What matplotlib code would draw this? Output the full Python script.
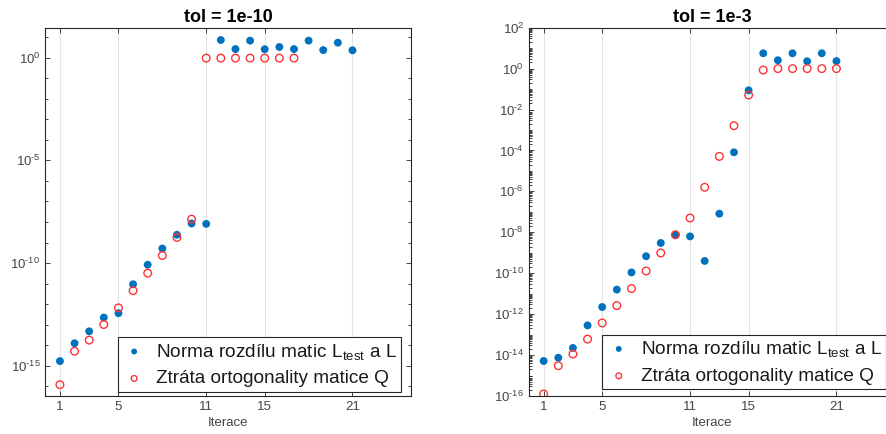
import numpy as np
import matplotlib
matplotlib.use("Agg")
import matplotlib.pyplot as plt
from matplotlib.ticker import LogLocator, FixedLocator, FuncFormatter, NullFormatter

plt.rcParams['font.family'] = ['Liberation Sans', 'DejaVu Sans']
plt.rcParams['mathtext.fontset'] = 'custom'
plt.rcParams['mathtext.rm'] = 'Liberation Sans'
plt.rcParams['mathtext.it'] = 'Liberation Sans:italic'
plt.rcParams['mathtext.bf'] = 'Liberation Sans:bold'
plt.rcParams['mathtext.default'] = 'regular'

# ---- data (log10 values) ----
iters_L_a = list(range(1, 22))
logL_a = [-14.77, -13.90, -13.32, -12.65, -12.44, -11.03, -10.08, -9.29, -8.62, -8.07,
          -8.09, 0.86, 0.42, 0.83, 0.41, 0.52, 0.42, 0.83, 0.37, 0.73, 0.36]
iters_Q_a = list(range(1, 18))
logQ_a = [-15.92, -14.29, -13.75, -12.99, -12.18, -11.34, -10.49, -9.63, -8.75, -7.86,
          -0.02, -0.02, -0.02, -0.02, -0.02, -0.02, -0.02]

iters_L_b = list(range(1, 22))
logL_b = [-14.29, -14.13, -13.65, -12.55, -11.65, -10.80, -9.96, -9.17, -8.52, -8.12,
          -8.20, -9.40, -7.09, -4.09, -1.06, 0.75, 0.41, 0.75, 0.36, 0.75, 0.37]
iters_Q_b = list(range(1, 22))
logQ_b = [-15.90, -14.52, -13.95, -13.22, -12.43, -11.58, -10.75, -9.89, -9.01, -8.12,
          -7.30, -5.80, -4.29, -2.79, -1.29, -0.07, 0.0, 0.0, 0.0, 0.0, 0.0]

titles = ['tol = 1e-10', 'tol = 1e-3']
xticks = [1, 5, 11, 15, 21]
xlabel = 'Iterace'
label_L = r'Norma rozdílu matic L$_{\mathrm{test}}$ a L'
label_Q = 'Ztráta ortogonality matice Q'

blue = '#0072BD'
red = '#FF3333'
txtc = '#454545'

W, H = 886, 434
fig = plt.figure(figsize=(W / 100, H / 100), dpi=100)

def px(x0, y0, x1, y1):
    return [x0 / W, 1 - y1 / H, (x1 - x0) / W, (y1 - y0) / H]

ax1 = fig.add_axes(px(45.3, 27.7, 411, 396))
ax2 = fig.add_axes(px(529, 27.7, 895, 396))

def sci(v, pos):
    if v <= 0:
        return ''
    e = int(round(np.log10(v)))
    s = str(e).replace('-', '\u2010')
    return r'$10^{%s}$' % s

panels = [
    (ax1, iters_L_a, logL_a, iters_Q_a, logQ_a, (10**-16.47, 10**1.46)),
    (ax2, iters_L_b, logL_b, iters_Q_b, logQ_b, (1e-16, 1e2)),
]
for i, (ax, xl, yl, xq, yq, ylim) in enumerate(panels):
    ax.set_yscale('log')
    ax.scatter(xl, 10.0 ** np.array(yl), s=32, color=blue, edgecolors='none',
               label=label_L, zorder=3)
    ax.scatter(xq, 10.0 ** np.array(yq), s=30, facecolors='none', edgecolors=red,
               linewidths=1.0, label=label_Q, zorder=3)
    ax.set_xlim(0, 25)
    ax.set_ylim(*ylim)
    ax.set_xticks(xticks)
    ax.set_title(titles[i], fontsize=13, fontweight='bold', pad=4)
    ax.set_xlabel(xlabel, fontsize=9.5, color=txtc, labelpad=3)
    ax.grid(True, axis='x', color='#e3e3e3', linewidth=0.8)
    ax.grid(False, axis='y')
    ax.set_axisbelow(True)
    if i == 0:
        ax.yaxis.set_major_locator(FixedLocator([1e-15, 1e-10, 1e-5, 1e0]))
        ax.yaxis.set_minor_locator(FixedLocator([10.0 ** k for k in range(-17, 2)]))
    else:
        ax.yaxis.set_major_locator(FixedLocator([10.0 ** k for k in range(-16, 3, 2)]))
        ax.yaxis.set_minor_locator(LogLocator(base=10, subs=np.arange(1, 10), numticks=100))
    ax.yaxis.set_major_formatter(FuncFormatter(sci))
    ax.yaxis.set_minor_formatter(NullFormatter())
    ax.tick_params(which='both', direction='in', top=True, right=True,
                   colors='#262626', labelcolor=txtc, labelsize=9.5, width=0.6)
    ax.tick_params(which='major', length=3.5)
    ax.tick_params(which='minor', length=2)
    for s in ax.spines.values():
        s.set_color('#262626')
        s.set_linewidth(0.8)

leg_kw = dict(fontsize=13.7, frameon=True, fancybox=False, borderaxespad=0,
              handletextpad=0.5, handlelength=1.3, borderpad=0.22, labelspacing=0.45,
              markerscale=0.75)
lg1 = ax1.legend(loc='lower right', bbox_to_anchor=(0.973, 0.012), **leg_kw)
lg2 = ax2.legend(loc='lower left', bbox_to_anchor=(0.2, 0.019), **leg_kw)
for lg in (lg1, lg2):
    fr = lg.get_frame()
    fr.set_edgecolor('#262626')
    fr.set_linewidth(0.8)
    fr.set_alpha(1)
    for t in lg.get_texts():
        t.set_color('#1a1a1a')

fig.savefig('out.png', dpi=100)
